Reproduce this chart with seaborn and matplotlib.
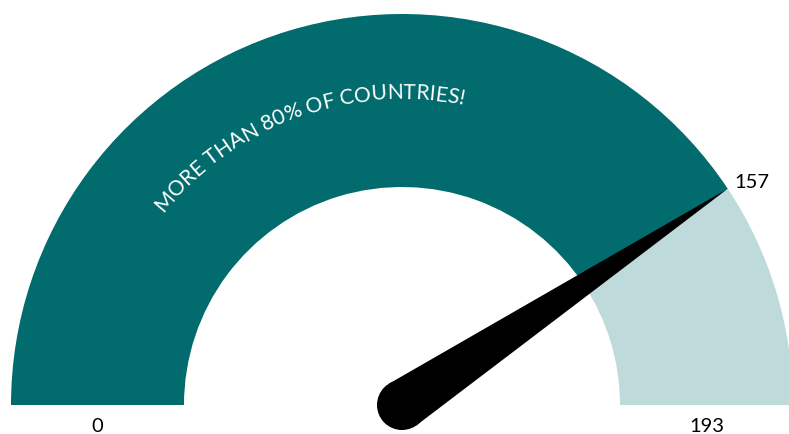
import numpy as np
import matplotlib
matplotlib.use("Agg")
import matplotlib.pyplot as plt
from matplotlib.patches import Wedge, Polygon, Circle
from matplotlib.font_manager import FontProperties
import seaborn as sns

# ---- data ----
min_value = 0
max_value = 193
current_value = 157
min_label = "0"
max_label = "193"
value_label = "157"
arc_message = "MORE THAN 80% OF COUNTRIES!"

# ---- style ----
sns.set_theme(style="white")
plt.rcParams["font.family"] = ["Lato", "DejaVu Sans"]
DARK = "#016B6D"
LIGHT = "#BFDADB"

W, H, DPI = 789, 435, 100
fig = plt.figure(figsize=(W / DPI, H / DPI), dpi=DPI)
ax = fig.add_axes([0, 0, 1, 1])
ax.set_xlim(0, W)
ax.set_ylim(0, H)
ax.set_aspect("equal")
ax.axis("off")

cx, cy = 402, 435 - 406
R_out, R_in = 391, 218
band = R_out - R_in

frac = (current_value - min_value) / (max_value - min_value)
theta_v = 180 - 180 * frac

ax.add_patch(Wedge((cx, cy), R_out, theta_v, 180, width=band, color=DARK, lw=0))
ax.add_patch(Wedge((cx, cy), R_out, 0, theta_v, width=band, color=LIGHT, lw=0))

# needle
hub_r = 25
t = np.deg2rad(theta_v)
tip = np.array([cx + R_out * np.cos(t), cy + R_out * np.sin(t)])
perp = np.array([-np.sin(t), np.cos(t)])
c = np.array([cx, cy])
ax.add_patch(Polygon([c + hub_r * perp, tip, c - hub_r * perp], closed=True,
                     color="black", lw=0, zorder=5))
ax.add_patch(Circle((cx, cy), hub_r, color="black", lw=0, zorder=5))

# labels
lab_fs = 14.5
ax.text(cx - (R_out + R_in) / 2, 435 - 427, min_label, ha="center", va="center",
        fontsize=lab_fs, color="black")
ax.text(cx + (R_out + R_in) / 2, 435 - 427, max_label, ha="center", va="center",
        fontsize=lab_fs, color="black")
ax.text(tip[0] + 7, tip[1] + 7, value_label, ha="left", va="center",
        fontsize=lab_fs, color="black")

# curved message
msg_fs = 15.2
prop = FontProperties(family=["Lato", "DejaVu Sans"], size=msg_fs)
renderer = fig.canvas.get_renderer()

def width_px(s):
    w1, _, _ = renderer.get_text_width_height_descent(s + "I", prop, ismath=False)
    w0, _, _ = renderer.get_text_width_height_descent("I", prop, ismath=False)
    return w1 - w0

total = width_px(arc_message)
R_base = 307
theta_c = np.deg2rad(109.8)
for i, ch in enumerate(arc_message):
    if ch == " ":
        continue
    s_left = width_px(arc_message[:i])
    s_right = width_px(arc_message[:i + 1])
    s_mid = (s_left + s_right) / 2
    th = theta_c + (total / 2 - s_mid) / R_base
    x = cx + R_base * np.cos(th)
    y = cy + R_base * np.sin(th)
    ax.text(x, y, ch, fontproperties=prop, color="white", ha="center", va="baseline",
            rotation=np.rad2deg(th) - 90, rotation_mode="anchor", zorder=6)

fig.savefig("out.png", dpi=DPI, facecolor="white")
